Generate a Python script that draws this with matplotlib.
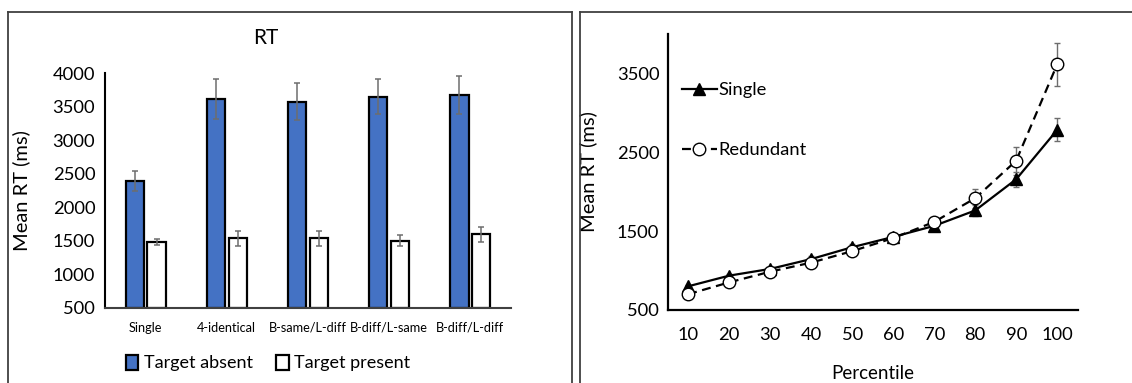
import matplotlib
matplotlib.use("Agg")
import matplotlib.pyplot as plt
import numpy as np
from matplotlib.lines import Line2D
from matplotlib.patches import Patch

plt.rcParams['font.family'] = ['Lato', 'DejaVu Sans']

# ---------------- data ----------------
conditions = ["Single", "4-identical", "B-same/L-diff", "B-diff/L-same", "B-diff/L-diff"]
absent_rt = [2395, 3615, 3575, 3650, 3670]
absent_err = [150, 300, 280, 265, 280]
present_rt = [1480, 1540, 1540, 1505, 1598]
present_err = [45, 110, 110, 80, 110]

percentiles = [10, 20, 30, 40, 50, 60, 70, 80, 90, 100]
single_rt = [800, 935, 1020, 1145, 1295, 1425, 1565, 1760, 2155, 2780]
single_err = [20, 25, 30, 35, 40, 50, 55, 70, 95, 145]
redundant_rt = [700, 850, 985, 1100, 1245, 1410, 1615, 1915, 2390, 3610]
redundant_err = [20, 25, 30, 35, 40, 55, 60, 120, 175, 270]

W, H = 1132, 383
fig = plt.figure(figsize=(W / 100, H / 100), dpi=100)

def fx(px):
    return px / W

def fy(py):
    return 1 - py / H

# panel frames
frame_kw = dict(color="#404040", lw=1.3, transform=fig.transFigure)
fig.add_artist(Line2D([fx(8), fx(8)], [fy(12), 0], **frame_kw))
fig.add_artist(Line2D([fx(8), fx(572)], [fy(12), fy(12)], **frame_kw))
fig.add_artist(Line2D([fx(572), fx(572)], [fy(12), 0], **frame_kw))
fig.add_artist(Line2D([fx(580), fx(580)], [fy(12), 0], **frame_kw))
fig.add_artist(Line2D([fx(580), 1], [fy(12), fy(12)], **frame_kw))

# ---------------- left: bar chart ----------------
ax1 = fig.add_axes([fx(105), fy(308), fx(511 - 105), (308 - 73) / H])
x = np.arange(len(conditions))
bw = 0.225
off = 0.135
ax1.bar(x - off, np.array(absent_rt) - 500, bw, bottom=500, color="#4472C4",
        edgecolor="black", linewidth=1.6, zorder=2)
ax1.bar(x + off, np.array(present_rt) - 500, bw, bottom=500, color="white",
        edgecolor="black", linewidth=1.6, zorder=2)
ax1.errorbar(x - off, absent_rt, yerr=absent_err, fmt="none", ecolor="#6d6d6d",
             elinewidth=1.1, capsize=2.5, capthick=1.1, zorder=3)
ax1.errorbar(x + off, present_rt, yerr=present_err, fmt="none", ecolor="#6d6d6d",
             elinewidth=1.1, capsize=2.5, capthick=1.1, zorder=3)
ax1.set_xlim(-0.5, len(conditions) - 0.5)
ax1.set_ylim(500, 4000)
ax1.set_yticks(np.arange(500, 4001, 500))
ax1.set_xticks(x)
ax1.set_xticklabels(conditions, fontsize=9.2)
ax1.tick_params(axis="y", length=0, pad=7, labelsize=13.2)
ax1.tick_params(axis="x", length=0, pad=10)
for s in ["top", "right"]:
    ax1.spines[s].set_visible(False)
for s in ["left", "bottom"]:
    ax1.spines[s].set_linewidth(1.5)
    ax1.spines[s].set_color("black")
ax1.spines["bottom"].set_color("#404040")
ax1.set_ylabel("Mean RT (ms)", fontsize=14.5)
ax1.yaxis.set_label_coords((30 - 105) / (511 - 105), 0.5)
fig.text(fx(266), fy(38), "RT", fontsize=15, ha="center", va="center")

leg_handles = [Patch(facecolor="#4472C4", edgecolor="black", linewidth=1.6),
               Patch(facecolor="white", edgecolor="black", linewidth=1.6)]
fig.legend(leg_handles, ["Target absent", "Target present"], loc="center",
           bbox_to_anchor=(fx(268), fy(363)), ncol=2, frameon=False,
           fontsize=13, handlelength=0.7, handleheight=0.9,
           handletextpad=0.3, columnspacing=1.3, borderpad=0)

# ---------------- right: line chart ----------------
ax2 = fig.add_axes([fx(667.7), fy(310), fx(410), (310 - 33.5) / H])
xi = np.arange(1, len(percentiles) + 1)
ax2.errorbar(xi, single_rt, yerr=single_err, fmt="none", ecolor="#6d6d6d",
             elinewidth=1.0, capsize=2.5, capthick=1.0, zorder=2)
ax2.errorbar(xi, redundant_rt, yerr=redundant_err, fmt="none", ecolor="#6d6d6d",
             elinewidth=1.0, capsize=2.5, capthick=1.0, zorder=2)
l1, = ax2.plot(xi, single_rt, color="black", lw=1.6, marker="^", markersize=8.5,
               markerfacecolor="black", markeredgecolor="black", zorder=3,
               label="Single")
l2, = ax2.plot(xi, redundant_rt, color="black", lw=1.6, linestyle=(0, (4, 2.5)),
               marker="o", markersize=9, markerfacecolor="white",
               markeredgecolor="black", markeredgewidth=1.0, zorder=4,
               label="Redundant")
ax2.set_xlim(0.5, len(percentiles) + 0.5)
ax2.set_ylim(500, 4000)
ax2.set_yticks([500, 1500, 2500, 3500])
ax2.set_xticks(xi)
ax2.set_xticklabels([str(p) for p in percentiles])
ax2.tick_params(axis="y", length=0, pad=6, labelsize=13.2)
ax2.tick_params(axis="x", length=0, pad=12, labelsize=13.2)
for s in ["top", "right"]:
    ax2.spines[s].set_visible(False)
for s in ["left", "bottom"]:
    ax2.spines[s].set_linewidth(1.6)
    ax2.spines[s].set_color("black")
ax2.set_ylabel("Mean RT (ms)", fontsize=14.5)
ax2.yaxis.set_label_coords((597 - 667.7) / 410, 0.5)
ax2.set_xlabel("Percentile", fontsize=13.5)
ax2.xaxis.set_label_coords(0.5, -(365 - 310) / 276.5)

ax2.legend(handles=[l1, l2], loc="upper left",
           bbox_to_anchor=(fx(682), fy(82)), bbox_transform=fig.transFigure,
           frameon=False, fontsize=13.2, handlelength=1.9, handletextpad=0.1,
           labelspacing=2.4, borderpad=0, borderaxespad=0)

fig.savefig("out.png", dpi=100)
